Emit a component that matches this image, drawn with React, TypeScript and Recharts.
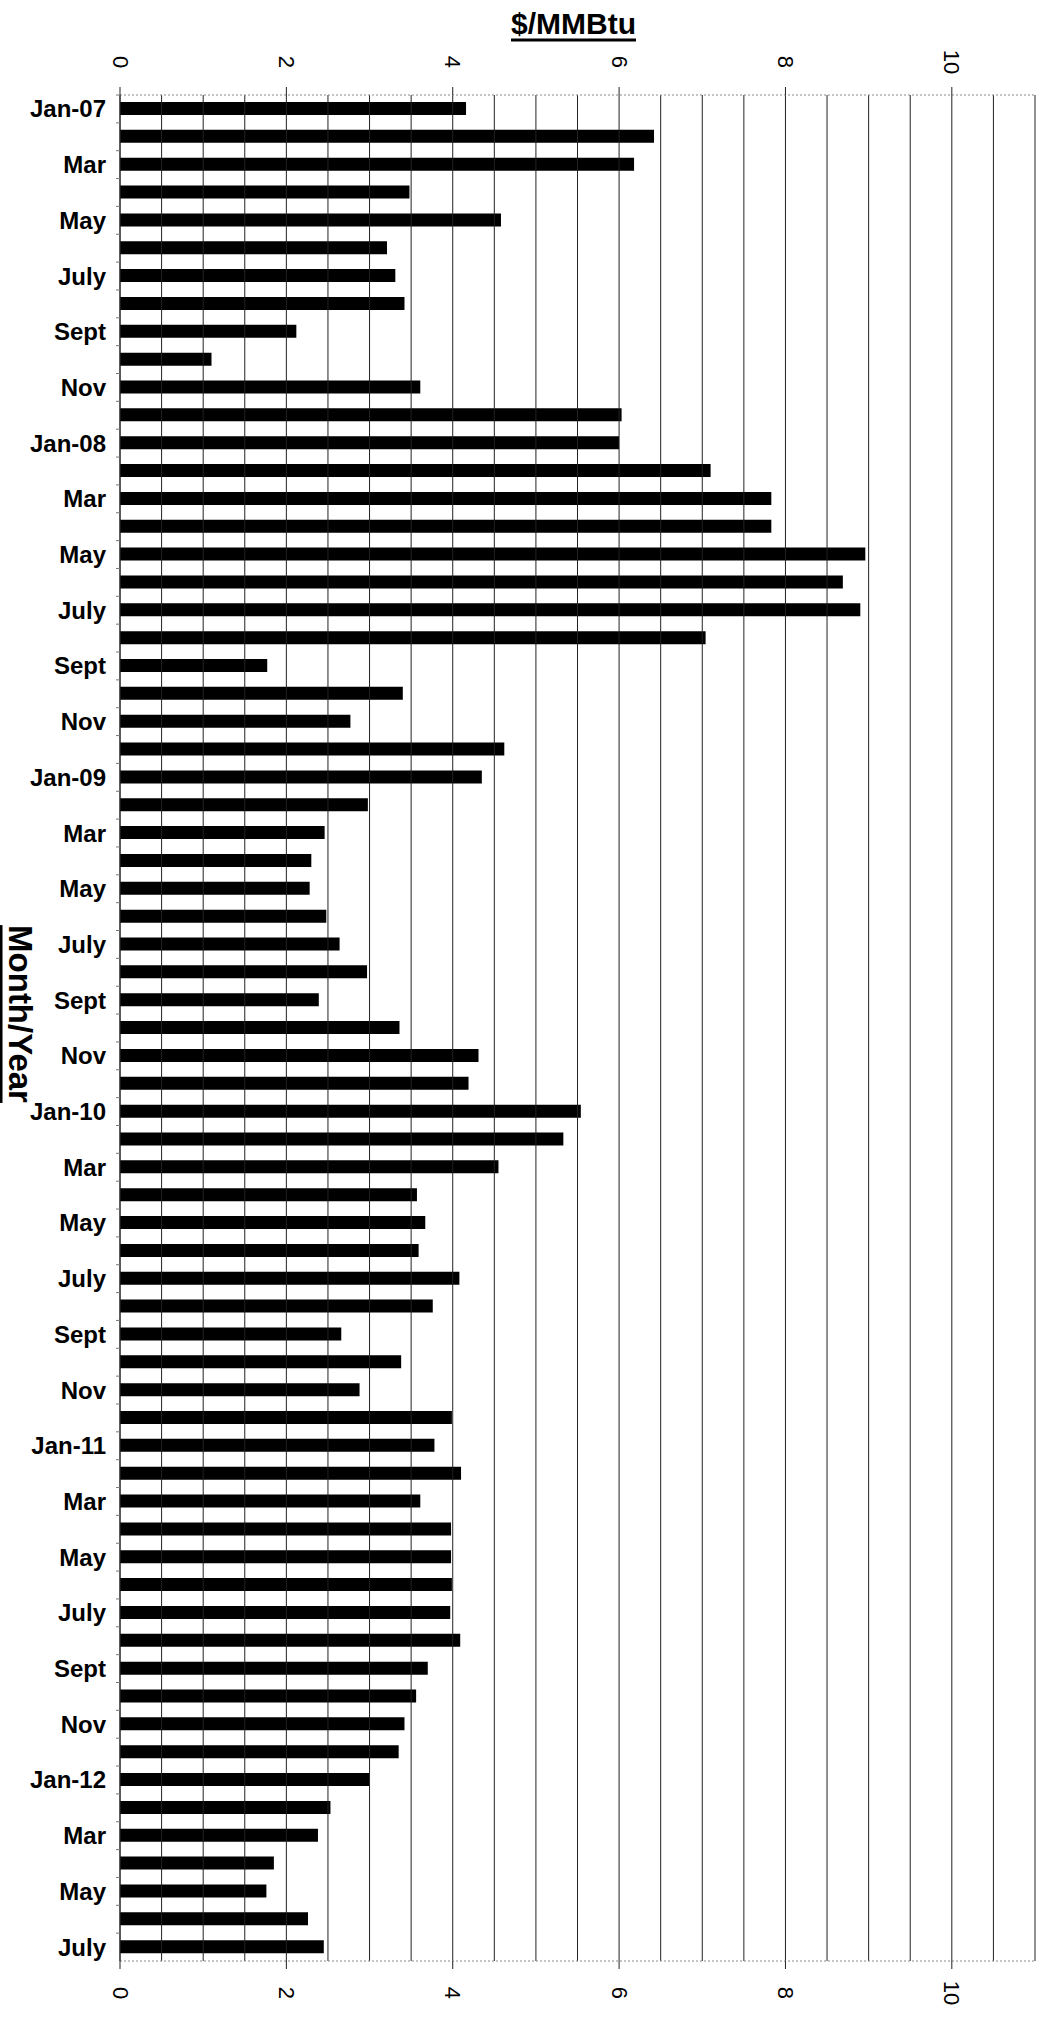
import React from 'react';
import { BarChart, Bar, XAxis, YAxis, ReferenceLine, Label } from 'recharts';

const MONTHS = [
  'Jan-07', 'Feb', 'Mar', 'Apr', 'May', 'June', 'July', 'Aug', 'Sept', 'Oct', 'Nov', 'Dec',
  'Jan-08', 'Feb', 'Mar', 'Apr', 'May', 'June', 'July', 'Aug', 'Sept', 'Oct', 'Nov', 'Dec',
  'Jan-09', 'Feb', 'Mar', 'Apr', 'May', 'June', 'July', 'Aug', 'Sept', 'Oct', 'Nov', 'Dec',
  'Jan-10', 'Feb', 'Mar', 'Apr', 'May', 'June', 'July', 'Aug', 'Sept', 'Oct', 'Nov', 'Dec',
  'Jan-11', 'Feb', 'Mar', 'Apr', 'May', 'June', 'July', 'Aug', 'Sept', 'Oct', 'Nov', 'Dec',
  'Jan-12', 'Feb', 'Mar', 'Apr', 'May', 'June', 'July',
];

const PRICES_2007 = [4.16, 6.42, 6.18, 3.48, 4.58, 3.21, 3.31, 3.42, 2.12, 1.1, 3.61, 6.03];
const PRICES_2008 = [6.0, 7.1, 7.83, 7.83, 8.96, 8.69, 8.9, 7.04, 1.77, 3.4, 2.77, 4.62];
const PRICES_2009 = [4.35, 2.98, 2.46, 2.3, 2.28, 2.48, 2.64, 2.97, 2.39, 3.36, 4.31, 4.19];
const PRICES_2010 = [5.54, 5.33, 4.55, 3.57, 3.67, 3.59, 4.08, 3.76, 2.66, 3.38, 2.88, 3.99];
const PRICES_2011 = [3.78, 4.1, 3.61, 3.98, 3.98, 3.99, 3.97, 4.09, 3.7, 3.56, 3.42, 3.35];
const PRICES_2012 = [3.0, 2.53, 2.38, 1.85, 1.76, 2.26, 2.45];

const X_TICKS = [0, 2, 4, 6, 8, 10];
const GRID_VALUES = [0, 0.5, 1, 1.5, 2, 2.5, 3, 3.5, 4, 4.5, 5, 5.5, 6, 6.5, 7, 7.5, 8, 8.5, 9, 9.5, 10, 10.5, 11];

const PRICES = [...PRICES_2007, ...PRICES_2008, ...PRICES_2009, ...PRICES_2010, ...PRICES_2011, ...PRICES_2012];
const DATA = MONTHS.map((m, i) => ({ month: m, price: PRICES[i] }));

const FONT = '"Liberation Sans", Arial, Helvetica, sans-serif';

const W = 1044;
const H = 2017;
const MARGIN = { top: 45, right: 9, bottom: 10, left: 0 };
const TOP_AXIS_H = 50;
const BOTTOM_AXIS_H = 46;
const Y_AXIS_W = 120;
const PLOT_H = H - MARGIN.top - MARGIN.bottom - TOP_AXIS_H - BOTTOM_AXIS_H;
const BAND = PLOT_H / DATA.length;
const Y_TICK_SIZE = 4;
const Y_TICK_MARGIN = 10;

const YTick = (props: any) => {
  const { x, y, payload, index } = props;
  const axisX = x + Y_TICK_SIZE + Y_TICK_MARGIN;
  return (
    <g>
      <line x1={axisX - 4} x2={axisX} y1={y - BAND / 2} y2={y - BAND / 2} stroke="#777" strokeWidth={1} />
      {index % 2 === 0 ? (
        <text x={x} y={y} textAnchor="end" dominantBaseline="central" fontFamily={FONT} fontWeight="bold" fontSize={24} fill="#000">
          {payload.value}
        </text>
      ) : null}
    </g>
  );
};

const XTick = (props: any) => {
  const { x, y, payload } = props;
  return (
    <text
      x={x}
      y={y}
      transform={`rotate(90 ${x} ${y})`}
      textAnchor="middle"
      dominantBaseline="central"
      fontFamily={FONT}
      fontSize={22}
      fill="#000"
    >
      {payload.value}
    </text>
  );
};

const TitleLabel = (props: any) => {
  const vb = props.viewBox || { x: 0, y: 0, width: 0 };
  return (
    <text
      x={vb.x + vb.width / 2 - 4}
      y={vb.y - 22}
      textAnchor="middle"
      dominantBaseline="central"
      fontFamily={FONT}
      fontWeight="bold"
      fontSize={30}
      textDecoration="underline"
      fill="#000"
    >
      $/MMBtu
    </text>
  );
};

const YTitleLabel = (props: any) => {
  const vb = props.viewBox || { x: 0, y: 0, height: 0 };
  const cx = 20;
  const cy = vb.y + vb.height / 2 - 14;
  return (
    <text
      x={cx}
      y={cy}
      transform={`rotate(90 ${cx} ${cy})`}
      textAnchor="middle"
      dominantBaseline="central"
      fontFamily={FONT}
      fontWeight="bold"
      fontSize={33}
      textDecoration="underline"
      fill="#000"
    >
      Month/Year
    </text>
  );
};

export default function App() {
  return (
    <div style={{ position: 'absolute', left: 0, top: 0, width: W, height: H, background: '#fff' }}>
      <BarChart width={W} height={H} data={DATA} layout="vertical" margin={MARGIN}>
        <XAxis
          xAxisId="top"
          orientation="top"
          type="number"
          dataKey="price"
          domain={[0, 11]}
          allowDataOverflow
          ticks={X_TICKS}
          height={TOP_AXIS_H}
          axisLine={{ stroke: '#888', strokeDasharray: '2 2' }}
          tickLine={{ stroke: '#222' }}
          tickSize={8}
          tickMargin={25}
          tick={<XTick />}
          interval={0}
        >
          <Label content={<TitleLabel />} />
        </XAxis>
        <XAxis
          xAxisId="bottom"
          orientation="bottom"
          type="number"
          dataKey="price"
          domain={[0, 11]}
          allowDataOverflow
          ticks={X_TICKS}
          height={BOTTOM_AXIS_H}
          axisLine={{ stroke: '#888', strokeDasharray: '2 2' }}
          tickLine={{ stroke: '#222' }}
          tickSize={8}
          tickMargin={24}
          tick={<XTick />}
          interval={0}
        />
        <YAxis
          type="category"
          dataKey="month"
          width={Y_AXIS_W}
          interval={0}
          tickLine={false}
          tickSize={Y_TICK_SIZE}
          tickMargin={Y_TICK_MARGIN}
          axisLine={{ stroke: '#222' }}
          tick={<YTick />}
        >
          <Label content={<YTitleLabel />} />
        </YAxis>
        {GRID_VALUES.map((v) => (
          <ReferenceLine key={v} x={v} xAxisId="top" ifOverflow="extendDomain" stroke="#222" strokeWidth={1} />
        ))}
        <Bar dataKey="price" xAxisId="bottom" fill="#000" barSize={13} isAnimationActive={false} />
      </BarChart>
    </div>
  );
}
